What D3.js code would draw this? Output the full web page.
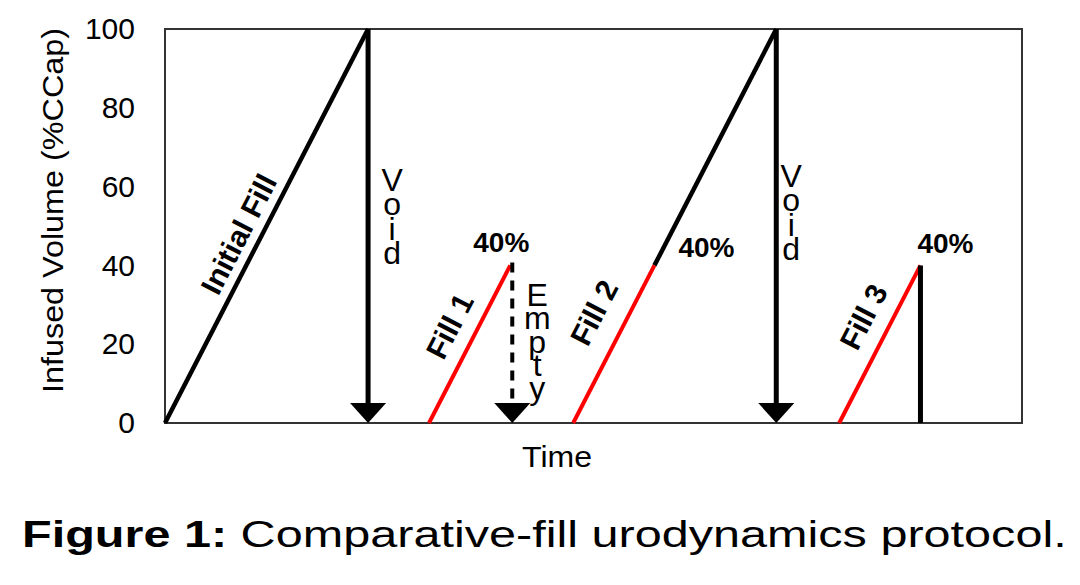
<!DOCTYPE html>
<html><head><meta charset="utf-8">
<script src="https://cdn.jsdelivr.net/npm/d3@7/dist/d3.min.js"></script>
<style>
body{margin:0;background:#fff;}
svg{display:block;font-family:"Liberation Sans",Arial,sans-serif;}
.vert{writing-mode:vertical-rl;text-orientation:upright;}
</style>
</head><body>
<svg id="c" width="1080" height="585"></svg>
<script>
// ---- data ----
const yTicks = [0, 20, 40, 60, 80, 100];
const timeDomain = [0, 42.2];
const volumeDomain = [0, 100];
const initialFill = [[0, 0], [10, 100]];
const fill1 = [[13, 0], [17, 40]];
const fill2Red = [[20.1, 0], [24.1, 40]];
const fill2Black = [[24.1, 40], [30.1, 100]];
const fill3 = [[33.2, 0], [37.2, 40]];
const fill3Drop = [[37.2, 40], [37.2, 0]];
const voidArrows = [[10, 100], [30.1, 100]];   // [time, start volume]
const emptyArrows = [[17.1, 40]];
const pctPoints = [[17, 40], [24.1, 40], [37.2, 40]];
const pctText = "40%";
const fillLabels = ["Initial Fill", "Fill 1", "Fill 2", "Fill 3"];
const xTitle = "Time";
const yTitle = "Infused Volume (%CCap)";
const figBold = "Figure 1:";
const figText = " Comparative-fill urodynamics protocol.";

// ---- layout ----
const svg = d3.select("#c");
const L = 165, R = 1022, T = 29, B = 423;
const x = d3.scaleLinear().domain(timeDomain).range([L, R]);
const y = d3.scaleLinear().domain(volumeDomain).range([B, T]);
const line = d3.line().x(d => x(d[0])).y(d => y(d[1]));

// frame
svg.append("rect").attr("x", L).attr("y", T).attr("width", R - L).attr("height", B - T)
  .attr("fill", "none").attr("stroke", "#333").attr("stroke-width", 2);

// y tick labels via axis
const yAxis = svg.append("g").attr("transform", `translate(${L},0)`)
  .call(d3.axisLeft(y).tickValues(yTicks).tickSize(0).tickPadding(30));
yAxis.select(".domain").remove();
yAxis.selectAll("text").attr("font-size", 30).attr("fill", "#000")
  .attr("font-family", "Liberation Sans, Arial, sans-serif");

// axis titles
svg.append("text").attr("x", 557).attr("y", 467).attr("text-anchor", "middle")
  .attr("font-size", 30).attr("textLength", 70).attr("lengthAdjust", "spacingAndGlyphs").text(xTitle);
svg.append("text").attr("transform", "translate(63,210.5) rotate(-90)").attr("text-anchor", "middle")
  .attr("font-size", 29).attr("textLength", 365).attr("lengthAdjust", "spacingAndGlyphs").text(yTitle);

// lines
const black = [initialFill, fill2Black];
const red = [fill1, fill2Red, fill3];
svg.selectAll(".bl").data(black).join("path").attr("d", line)
  .attr("fill", "none").attr("stroke", "#000").attr("stroke-width", 4.5);
svg.selectAll(".rd").data(red).join("path").attr("d", line)
  .attr("fill", "none").attr("stroke", "#ff0000").attr("stroke-width", 4);
svg.append("path").attr("d", line(fill3Drop)).attr("stroke", "#000").attr("stroke-width", 5).attr("fill", "none");

// arrows
const headW = 18, headH = 20;
function head(t) {
  const xx = x(t), yy = y(0);
  return `M${xx},${yy}L${xx - headW},${yy - headH}L${xx + headW},${yy - headH}Z`;
}
voidArrows.forEach(d => {
  svg.append("line").attr("x1", x(d[0])).attr("x2", x(d[0])).attr("y1", y(d[1])).attr("y2", y(0) - headH + 1)
    .attr("stroke", "#000").attr("stroke-width", 5);
  svg.append("path").attr("d", head(d[0])).attr("fill", "#000");
});
emptyArrows.forEach(d => {
  svg.append("line").attr("x1", x(d[0])).attr("x2", x(d[0])).attr("y1", y(d[1]) - 3).attr("y2", y(0) - headH)
    .attr("stroke", "#000").attr("stroke-width", 4).attr("stroke-dasharray", "10,8");
  svg.append("path").attr("d", head(d[0])).attr("fill", "#000");
});

// 40% labels
const pctOff = [[-37, -13], [24, -8], [-3, -12]];
pctPoints.forEach((p, i) => {
  svg.append("text").attr("x", x(p[0]) + pctOff[i][0]).attr("y", y(p[1]) + pctOff[i][1])
    .attr("font-size", 28).attr("font-weight", "bold").text(pctText);
});

// rotated fill labels (along / perpendicular offsets from segment midpoint)
const segs = [initialFill, fill1, fill2Red, fill3];
const lblOff = [[-20, 21], [7, 26], [19, 32], [17, 27]];
segs.forEach((s, i) => {
  const x0 = x(s[0][0]), y0 = y(s[0][1]), x1 = x(s[1][0]), y1 = y(s[1][1]);
  const ang = Math.atan2(y1 - y0, x1 - x0);
  const ux = Math.cos(ang), uy = Math.sin(ang);
  const nx = uy, ny = -ux; // left normal (up-left)
  const mx = (x0 + x1) / 2 + ux * lblOff[i][0] + nx * lblOff[i][1];
  const my = (y0 + y1) / 2 + uy * lblOff[i][0] + ny * lblOff[i][1];
  svg.append("text").attr("transform", `translate(${mx},${my}) rotate(${ang * 180 / Math.PI})`)
    .attr("text-anchor", "middle").attr("dominant-baseline", "central")
    .attr("font-size", 30).attr("font-weight", "bold").text(fillLabels[i]);
});

// vertical stacked words (single vertical text element each)
function stack(word, cx, capTop, dy) {
  const fs = 32;
  const t = svg.append("text").attr("class", "vert").attr("x", cx).attr("y", 0)
    .attr("font-size", fs).style("letter-spacing", "0px").text(word);
  const h0 = t.node().getBBox().height;
  const adv = h0 / word.length;
  t.style("letter-spacing", (dy - adv) + "px");
  const bb = t.node().getBBox();
  t.attr("y", (capTop - 0.19 * fs) - bb.y);
}
stack("Void", x(voidArrows[0][0]) + 24, 168, 24.3);
stack("Void", x(voidArrows[1][0]) + 15, 164, 24.3);
stack("Empty", x(emptyArrows[0][0]) + 25, 283, 23.3);

// figure caption
const cap = svg.append("text").attr("font-size", 37);
cap.append("tspan").attr("font-weight", "bold").text(figBold);
cap.append("tspan").text(figText);
const w = cap.node().getComputedTextLength();
cap.attr("transform", `translate(22,547) scale(${1045 / w},1)`);
</script>
</body></html>
